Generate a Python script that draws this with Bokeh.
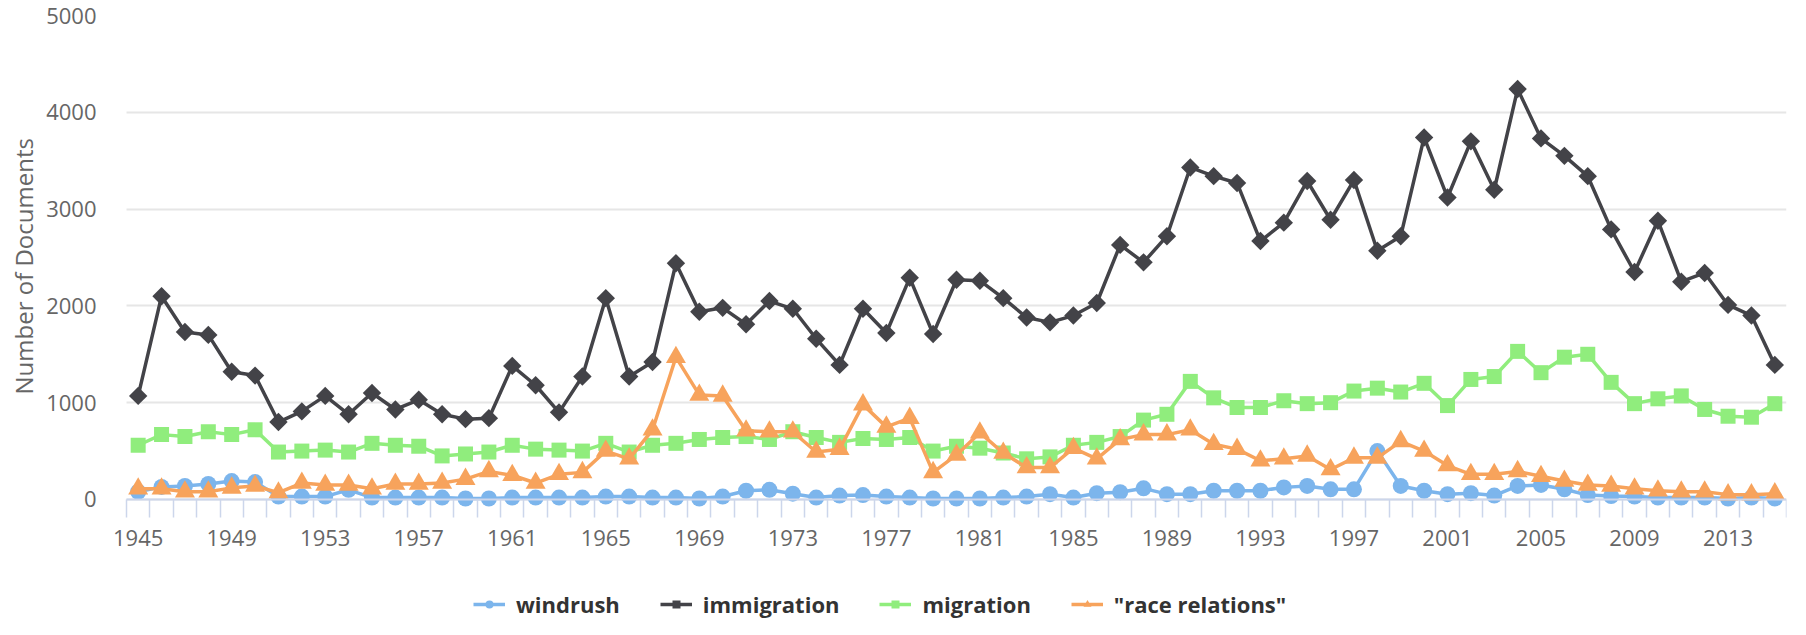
import numpy as np
from bokeh.plotting import figure
from bokeh.models import Range1d, FixedTicker, Legend, LegendItem, Title
from bokeh.embed import file_html
from bokeh.resources import INLINE

years = list(range(1945, 2016))
label_years = list(range(1945, 2016, 4))
y_ticks = [0, 1000, 2000, 3000, 4000, 5000]

windrush = [80, 130, 140, 160, 190, 180, 30, 30, 30, 100, 20,
            20, 20, 20, 10, 10, 20, 20, 20, 20, 30,
            30, 20, 20, 10, 30, 90, 100, 60, 20, 40,
            45, 30, 20, 10, 10, 10, 20, 30, 55, 20,
            65, 75, 115, 55, 55, 90, 90, 90, 125, 140,
            105, 105, 500, 140, 90, 55, 65, 40, 140, 150,
            105, 45, 35, 30, 20, 20, 20, 10, 20, 10]

immigration = [1070, 2100, 1730, 1700, 1320, 1280, 800, 910, 1070, 880, 1100,
               930, 1030, 880, 830, 840, 1380, 1180, 900, 1270, 2080,
               1270, 1420, 2440, 1940, 1980, 1810, 2050, 1970, 1660, 1390,
               1970, 1720, 2290, 1710, 2270, 2260, 2080, 1880, 1830, 1900,
               2030, 2630, 2450, 2720, 3430, 3340, 3270, 2670, 2860, 3290,
               2890, 3300, 2570, 2720, 3740, 3120, 3700, 3200, 4240, 3730,
               3550, 3340, 2790, 2350, 2880, 2250, 2340, 2010, 1900, 1390]

migration = [560, 670, 650, 700, 670, 720, 490, 500, 510, 490, 580,
             560, 550, 450, 470, 490, 560, 520, 510, 500, 580,
             490, 560, 580, 620, 640, 650, 620, 700, 640, 590,
             630, 620, 640, 500, 550, 530, 480, 420, 440, 560,
             590, 650, 820, 880, 1220, 1050, 950, 950, 1020, 990,
             1000, 1120, 1150, 1110, 1200, 970, 1240, 1270, 1530, 1310,
             1470, 1500, 1210, 990, 1040, 1070, 930, 860, 850, 990]

race_relations = [110, 110, 80, 80, 120, 140, 70, 170, 150, 150, 110,
                  160, 160, 170, 210, 290, 250, 170, 260, 280, 500,
                  420, 720, 1470, 1080, 1070, 710, 700, 700, 490, 520,
                  980, 750, 840, 280, 460, 690, 480, 330, 330, 530,
                  420, 620, 670, 670, 720, 570, 520, 400, 420, 450,
                  310, 430, 430, 600, 500, 350, 260, 260, 290, 240,
                  190, 150, 140, 110, 90, 80, 80, 50, 50, 60]

series_names = ["windrush", "immigration", "migration", "\"race relations\""]
series_colors = ["#7cb5ec", "#434348", "#90ed7d", "#f7a35c"]

FONT = "Open Sans"

# The frame reaches one category left of 1945 (so the first tick label is not
# clipped) and down to the canvas bottom (room for axis labels and legend);
# grid and axis line are bounded to the real category span.
p = figure(width=1790, height=619, output_backend="svg", toolbar_location=None,
           x_range=Range1d(1943.517, 2015.5), y_range=Range1d(-1240, 5000),
           min_border_left=102, min_border_right=4, min_border_top=15,
           min_border_bottom=0)
p.outline_line_color = None
p.background_fill_color = "white"
p.border_fill_color = "white"

p.xgrid.grid_line_color = None
p.ygrid.grid_line_color = "#e6e6e6"
p.ygrid.grid_line_width = 2
p.ygrid.cross_bounds = (1944.5, 2015.5)

# y axis
p.yaxis.ticker = FixedTicker(ticks=y_ticks)
p.yaxis.axis_line_color = None
p.yaxis.major_tick_line_color = None
p.yaxis.minor_tick_line_color = None
p.yaxis.major_tick_out = 0
p.yaxis.major_tick_in = 0
p.yaxis.major_label_standoff = 7
p.yaxis.major_label_text_font = FONT
p.yaxis.major_label_text_font_size = "22px"
p.yaxis.major_label_text_color = "#666666"

ytitle = Title(text="Number of Documents", align="left", offset=225,
               text_font=FONT, text_font_size="24px", text_font_style="normal",
               text_color="#666666", standoff=8)
p.add_layout(ytitle, "left")

# x axis, pinned at y = 0
boundaries = [y - 0.5 for y in years] + [years[-1] + 0.5]
p.xaxis.fixed_location = 0
p.xaxis.bounds = (1944.5, 2015.5)
p.xaxis.ticker = FixedTicker(ticks=label_years, minor_ticks=boundaries)
p.xaxis.axis_line_color = "#ccd6eb"
p.xaxis.axis_line_width = 2
p.xaxis.major_tick_line_color = None
p.xaxis.major_tick_out = 0
p.xaxis.major_tick_in = 0
p.xaxis.minor_tick_line_color = "#ccd6eb"
p.xaxis.minor_tick_line_width = 1.5
p.xaxis.minor_tick_out = 18
p.xaxis.minor_tick_in = 0
p.xaxis.major_label_standoff = 13
p.xaxis.major_label_text_font = FONT
p.xaxis.major_label_text_font_size = "22px"
p.xaxis.major_label_text_color = "#666666"

markers = ["circle", "square", "square", "triangle"]
sizes = [16, 13, 15, 20]
angles = [0, np.pi / 4, 0, 0]
data = [windrush, immigration, migration, race_relations]

items = []
for name, col, vals, mk, sz, ang in zip(series_names, series_colors, data, markers, sizes, angles):
    lr = p.line(years, vals, line_color=col, line_width=3.5)
    sr = p.scatter(years, vals, marker=mk, size=sz, angle=ang,
                   fill_color=col, line_color=col, line_width=0)
    items.append(LegendItem(label=name, renderers=[lr, sr]))

legend = Legend(items=items, orientation="horizontal", location=(370, 0),
                glyph_width=32, glyph_height=20, label_standoff=11, spacing=40,
                padding=0, margin=0,
                label_text_font=FONT, label_text_font_size="22px",
                label_text_font_style="bold", label_text_color="#333333",
                background_fill_alpha=0, border_line_color=None)
p.add_layout(legend)

open("out.html", "w").write(file_html(p, INLINE))
